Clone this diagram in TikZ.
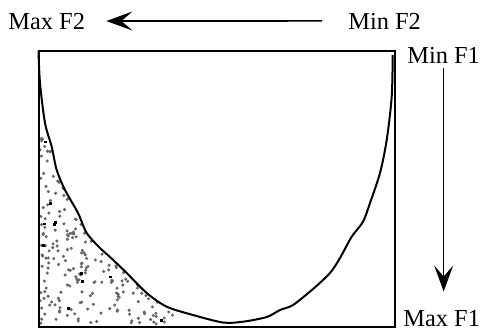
\documentclass[tikz,border=0pt]{standalone}
\usepackage{fontspec}
\setmainfont{Liberation Serif}
\usetikzlibrary{arrows.meta,positioning,calc}
\definecolor{dotGray}{HTML}{666666}

\begin{document}
\begin{tikzpicture}[x=0.5pt,y=-0.5pt,
    lbl/.style={inner sep=0pt,anchor=base west,font=\fontsize{12.2}{14}\selectfont},
    axisarrow/.style={line width=0.8pt,-{Stealth[length=13pt,width=9.5pt,inset=5.5pt]}}]
  \useasboundingbox (0,0) rectangle (482,332);
  % labels
  \node[lbl] (maxF2) at (8,29) {Max F2};
  \node[lbl] (minF2) at (348,29) {Min F2};
  \node[lbl] (minF1) at (407,63) {Min F1};
  \node[lbl] (maxF1) at (403,326) {Max F1};
  \draw[axisarrow,shorten <=13pt,shorten >=10.5pt] (minF2.west) -- (maxF2.east);
  \draw[axisarrow,shorten <=2.5pt,shorten >=9pt] (minF1.south) -- (minF1.south |- maxF1.north);
  % dotted region
  \begin{scope}
    \clip plot[smooth,tension=0.5] coordinates {(38.5,51) (40,83) (45,123) (51.7,146.7) (56.7,170) (65,190) (78,213) (86.7,233) (100,248) (110,257) (126.7,273) (146.7,293) (166.7,306.7) (193,315) (223,322.5)} -- (223,326) -- (38,326) -- cycle;
    \pgfmathsetseed{11}
    \foreach \i in {1,...,480}{
      \pgfmathsetmacro\dx{40+rnd*136}
      \pgfmathsetmacro\dy{138+rnd*186}
      \fill[dotGray] (\dx,\dy) circle (1.7);
    }
    \foreach \i in {1,...,32}{
      \pgfmathsetmacro\dx{40+rnd*136}
      \pgfmathsetmacro\dy{138+rnd*186}
      \fill[black] ($(\dx,\dy)+(-1.3,-1.3)$) rectangle ($(\dx,\dy)+(1.3,1.3)$);
    }
  \end{scope}
  % frame and front
  \draw[line width=1pt] (38.5,51) rectangle (395,326.5);
  \draw[line width=1pt] plot[smooth,tension=0.5] coordinates {(38.5,51) (40,83) (45,123) (51.7,146.7) (56.7,170) (65,190) (78,213) (86.7,233) (100,248) (110,257) (126.7,273) (146.7,293) (166.7,306.7) (193,315) (223,322.5) (243,321.7) (266.7,317) (280,310) (293,305) (313,289) (330,273) (340,258) (351.7,236.7) (363,221.7) (370,203) (380,173) (386.7,140) (391.7,96.7) (392.7,55)};
\end{tikzpicture}
\end{document}
